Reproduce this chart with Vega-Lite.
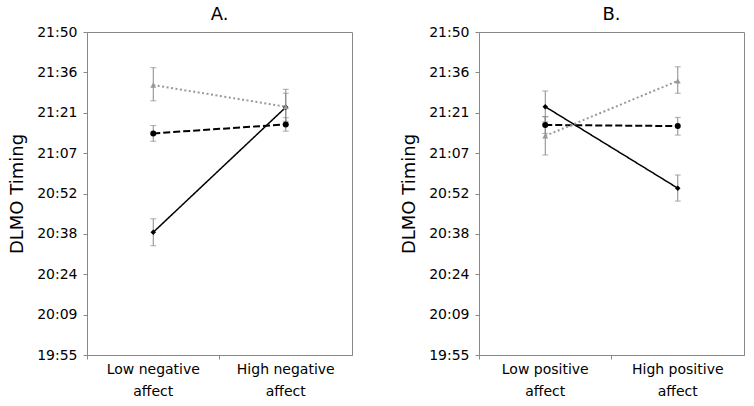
{
  "$schema": "https://vega.github.io/schema/vega-lite/v6.json",
  "background": "white",
  "padding": {"left": 8, "top": 5, "right": 5, "bottom": 0},
  "datasets": {
    "dlmo": [
      {"panel": "A", "cat": "Low negative affect", "group": "Group 1", "y": 1238.7, "lo": 1233.9, "hi": 1243.5},
      {"panel": "A", "cat": "High negative affect", "group": "Group 1", "y": 1283.2, "lo": 1278.2, "hi": 1288.2},
      {"panel": "A", "cat": "Low negative affect", "group": "Group 2", "y": 1273.9, "lo": 1271.1, "hi": 1276.7},
      {"panel": "A", "cat": "High negative affect", "group": "Group 2", "y": 1277.1, "lo": 1274.7, "hi": 1279.5},
      {"panel": "A", "cat": "Low negative affect", "group": "Group 3", "y": 1291.1, "lo": 1285.5, "hi": 1297.3},
      {"panel": "A", "cat": "High negative affect", "group": "Group 3", "y": 1283.4, "lo": 1277.0, "hi": 1289.6},
      {"panel": "B", "cat": "Low positive affect", "group": "Group 1", "y": 1283.4, "lo": 1278.0, "hi": 1289.0},
      {"panel": "B", "cat": "High positive affect", "group": "Group 1", "y": 1254.4, "lo": 1249.8, "hi": 1259.1},
      {"panel": "B", "cat": "Low positive affect", "group": "Group 2", "y": 1276.9, "lo": 1273.9, "hi": 1279.9},
      {"panel": "B", "cat": "High positive affect", "group": "Group 2", "y": 1276.5, "lo": 1273.3, "hi": 1279.6},
      {"panel": "B", "cat": "Low positive affect", "group": "Group 3", "y": 1273.0, "lo": 1266.2, "hi": 1279.8},
      {"panel": "B", "cat": "High positive affect", "group": "Group 3", "y": 1292.6, "lo": 1288.2, "hi": 1297.6}
    ]
  },
  "config": {
    "font": "DejaVu Sans",
    "view": {"stroke": "#888", "strokeWidth": 1},
    "axis": {
      "domainColor": "#888",
      "tickColor": "#888",
      "labelColor": "black",
      "titleColor": "black",
      "labelFont": "DejaVu Sans",
      "titleFont": "DejaVu Sans",
      "labelFontSize": 14,
      "grid": false
    },
    "title": {"font": "DejaVu Sans", "fontSize": 18, "fontWeight": "normal", "color": "black", "offset": 1}
  },
  "bounds": "flush",
  "spacing": 127,
  "hconcat": [
    {
      "title": "A.",
      "width": 265,
      "height": 323,
      "data": {"name": "dlmo"},
      "transform": [{"filter": "datum.panel == 'A'"}],
      "encoding": {
        "x": {
          "field": "cat", "type": "nominal",
          "sort": ["Low negative affect", "High negative affect"],
          "scale": {"type": "band", "paddingInner": 0, "paddingOuter": 0},
          "axis": {"title": null, "labelAngle": 0, "bandPosition": 0, "tickSize": 4, "labelPadding": 3, "labelLineHeight": 22,
                   "labelExpr": "[slice(datum.value, 0, -7), 'affect']"}
        }
      },
      "layer": [
        {"mark": {"type": "rule", "color": "#888", "strokeWidth": 1},
         "encoding": {"y": {"field": "lo", "type": "quantitative"}, "y2": {"field": "hi"}}},
        {"mark": {"type": "tick", "color": "#888", "size": 6, "thickness": 1},
         "encoding": {"y": {"field": "lo", "type": "quantitative"}}},
        {"mark": {"type": "tick", "color": "#888", "size": 6, "thickness": 1},
         "encoding": {"y": {"field": "hi", "type": "quantitative"}}},
        {"mark": {"type": "line"},
         "encoding": {
           "y": {"field": "y", "type": "quantitative",
                 "scale": {"domain": [1195, 1310], "nice": false, "zero": false},
                 "axis": {"title": "DLMO Timing", "titleFontSize": 18, "titleFontWeight": "normal", "titlePadding": 10,
                          "tickSize": 4, "labelPadding": 6,
                          "values": [1195, 1209.375, 1223.75, 1238.125, 1252.5, 1266.875, 1281.25, 1295.625, 1310],
                          "labelExpr": "['19:55','20:09','20:24','20:38','20:52','21:07','21:21','21:36','21:50'][round((datum.value-1195)/14.375)]"}},
           "detail": {"field": "group"},
           "color": {"field": "group", "type": "nominal", "legend": null,
                     "scale": {"domain": ["Group 1", "Group 2", "Group 3"], "range": ["#000000", "#000000", "#999999"]}},
           "strokeDash": {"field": "group", "type": "nominal", "legend": null,
                          "scale": {"domain": ["Group 1", "Group 2", "Group 3"], "range": [[1, 0], [7, 3], [2, 2.5]]}},
           "strokeWidth": {"field": "group", "type": "nominal", "legend": null,
                           "scale": {"type": "ordinal", "domain": ["Group 1", "Group 2", "Group 3"], "range": [1.5, 2, 2]}}
         }},
        {"mark": {"type": "point", "filled": true, "opacity": 1},
         "encoding": {
           "y": {"field": "y", "type": "quantitative"},
           "color": {"field": "group", "type": "nominal", "legend": null},
           "shape": {"field": "group", "type": "nominal", "legend": null,
                     "scale": {"domain": ["Group 1", "Group 2", "Group 3"], "range": ["diamond", "circle", "triangle-up"]}},
           "size": {"field": "group", "type": "nominal", "legend": null,
                    "scale": {"type": "ordinal", "domain": ["Group 1", "Group 2", "Group 3"], "range": [30, 36, 35]}}
         }}
      ]
    },
    {
      "title": "B.",
      "width": 265,
      "height": 323,
      "data": {"name": "dlmo"},
      "transform": [{"filter": "datum.panel == 'B'"}],
      "encoding": {
        "x": {
          "field": "cat", "type": "nominal",
          "sort": ["Low positive affect", "High positive affect"],
          "scale": {"type": "band", "paddingInner": 0, "paddingOuter": 0},
          "axis": {"title": null, "labelAngle": 0, "bandPosition": 0, "tickSize": 4, "labelPadding": 3, "labelLineHeight": 22,
                   "labelExpr": "[slice(datum.value, 0, -7), 'affect']"}
        }
      },
      "layer": [
        {"mark": {"type": "rule", "color": "#888", "strokeWidth": 1},
         "encoding": {"y": {"field": "lo", "type": "quantitative"}, "y2": {"field": "hi"}}},
        {"mark": {"type": "tick", "color": "#888", "size": 6, "thickness": 1},
         "encoding": {"y": {"field": "lo", "type": "quantitative"}}},
        {"mark": {"type": "tick", "color": "#888", "size": 6, "thickness": 1},
         "encoding": {"y": {"field": "hi", "type": "quantitative"}}},
        {"mark": {"type": "line"},
         "encoding": {
           "y": {"field": "y", "type": "quantitative",
                 "scale": {"domain": [1195, 1310], "nice": false, "zero": false},
                 "axis": {"title": "DLMO Timing", "titleFontSize": 18, "titleFontWeight": "normal", "titlePadding": 10,
                          "tickSize": 4, "labelPadding": 6,
                          "values": [1195, 1209.375, 1223.75, 1238.125, 1252.5, 1266.875, 1281.25, 1295.625, 1310],
                          "labelExpr": "['19:55','20:09','20:24','20:38','20:52','21:07','21:21','21:36','21:50'][round((datum.value-1195)/14.375)]"}},
           "detail": {"field": "group"},
           "color": {"field": "group", "type": "nominal", "legend": null,
                     "scale": {"domain": ["Group 1", "Group 2", "Group 3"], "range": ["#000000", "#000000", "#999999"]}},
           "strokeDash": {"field": "group", "type": "nominal", "legend": null,
                          "scale": {"domain": ["Group 1", "Group 2", "Group 3"], "range": [[1, 0], [7, 3], [2, 2.5]]}},
           "strokeWidth": {"field": "group", "type": "nominal", "legend": null,
                           "scale": {"type": "ordinal", "domain": ["Group 1", "Group 2", "Group 3"], "range": [1.5, 2, 2]}}
         }},
        {"mark": {"type": "point", "filled": true, "opacity": 1},
         "encoding": {
           "y": {"field": "y", "type": "quantitative"},
           "color": {"field": "group", "type": "nominal", "legend": null},
           "shape": {"field": "group", "type": "nominal", "legend": null,
                     "scale": {"domain": ["Group 1", "Group 2", "Group 3"], "range": ["diamond", "circle", "triangle-up"]}},
           "size": {"field": "group", "type": "nominal", "legend": null,
                    "scale": {"type": "ordinal", "domain": ["Group 1", "Group 2", "Group 3"], "range": [30, 36, 35]}}
         }}
      ]
    }
  ]
}
